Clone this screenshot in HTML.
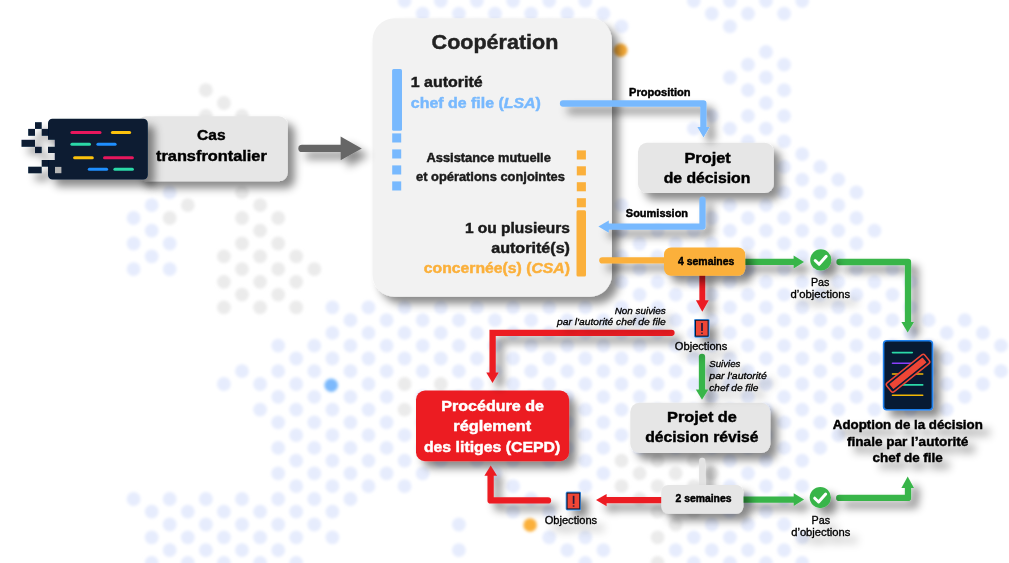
<!DOCTYPE html>
<html lang="fr"><head><meta charset="utf-8"><title>Coopération</title>
<style>html,body{margin:0;padding:0;background:#fff}body{width:1009px;height:563px;overflow:hidden}svg{display:block}text{white-space:pre}</style>
</head><body>
<svg width="1009" height="563" viewBox="0 0 1009 563" font-family='"Liberation Sans", sans-serif'>
<defs>
<filter id="sh" filterUnits="userSpaceOnUse" x="0" y="0" width="1009" height="563"><feDropShadow dx="7" dy="7" stdDeviation="4" flood-color="#000" flood-opacity="0.46"/></filter>
<filter id="sh2" filterUnits="userSpaceOnUse" x="0" y="0" width="1009" height="563"><feDropShadow dx="7" dy="7" stdDeviation="4" flood-color="#000" flood-opacity="0.46"/></filter>
<filter id="sh3" filterUnits="userSpaceOnUse" x="0" y="0" width="1009" height="563"><feDropShadow dx="7" dy="7" stdDeviation="4" flood-color="#000" flood-opacity="0.36"/></filter>
<filter id="nf" filterUnits="userSpaceOnUse" x="0" y="0" width="1009" height="563"><feOffset dx="0" dy="0"/></filter>
<filter id="soft" filterUnits="userSpaceOnUse" x="0" y="0" width="1009" height="563"><feGaussianBlur stdDeviation="1.7"/></filter>
</defs>
<g filter="url(#soft)"><circle cx="404.6" cy="0.8" r="6.9" fill="#e6ecfd"/><circle cx="440.8" cy="0.8" r="6.9" fill="#e6ecfd"/><circle cx="476.9" cy="0.8" r="6.9" fill="#e6ecfd"/><circle cx="513.1" cy="0.8" r="6.9" fill="#e6ecfd"/><circle cx="549.2" cy="0.8" r="6.9" fill="#e6ecfd"/><circle cx="585.3" cy="0.8" r="6.9" fill="#e6ecfd"/><circle cx="693.8" cy="0.8" r="6.9" fill="#e6ecfd"/><circle cx="729.9" cy="0.8" r="6.9" fill="#e6ecfd"/><circle cx="766.0" cy="0.8" r="6.9" fill="#e6ecfd"/><circle cx="802.2" cy="0.8" r="6.9" fill="#e6ecfd"/><circle cx="422.7" cy="13.6" r="6.9" fill="#e6ecfd"/><circle cx="458.9" cy="13.6" r="6.9" fill="#e6ecfd"/><circle cx="495.0" cy="13.6" r="6.9" fill="#e6ecfd"/><circle cx="531.1" cy="13.6" r="6.9" fill="#e6ecfd"/><circle cx="567.3" cy="13.6" r="6.9" fill="#e6ecfd"/><circle cx="603.4" cy="13.6" r="6.9" fill="#e6ecfd"/><circle cx="711.8" cy="13.6" r="6.9" fill="#e6ecfd"/><circle cx="748.0" cy="13.6" r="6.9" fill="#e6ecfd"/><circle cx="784.1" cy="13.6" r="6.9" fill="#e6ecfd"/><circle cx="440.8" cy="26.4" r="6.9" fill="#e6ecfd"/><circle cx="476.9" cy="26.4" r="6.9" fill="#e6ecfd"/><circle cx="513.1" cy="26.4" r="6.9" fill="#e6ecfd"/><circle cx="549.2" cy="26.4" r="6.9" fill="#e6ecfd"/><circle cx="585.3" cy="26.4" r="6.9" fill="#e6ecfd"/><circle cx="621.5" cy="26.4" r="6.9" fill="#e6ecfd"/><circle cx="729.9" cy="26.4" r="6.9" fill="#e6ecfd"/><circle cx="458.9" cy="39.1" r="6.9" fill="#e6ecfd"/><circle cx="495.0" cy="39.1" r="6.9" fill="#e6ecfd"/><circle cx="531.1" cy="39.1" r="6.9" fill="#e6ecfd"/><circle cx="567.3" cy="39.1" r="6.9" fill="#e6ecfd"/><circle cx="603.4" cy="39.1" r="6.9" fill="#e6ecfd"/><circle cx="440.8" cy="51.9" r="6.9" fill="#e6ecfd"/><circle cx="476.9" cy="51.9" r="6.9" fill="#e6ecfd"/><circle cx="513.1" cy="51.9" r="6.9" fill="#e6ecfd"/><circle cx="549.2" cy="51.9" r="6.9" fill="#e6ecfd"/><circle cx="585.3" cy="51.9" r="6.9" fill="#e6ecfd"/><circle cx="766.0" cy="51.9" r="6.9" fill="#e6ecfd"/><circle cx="748.0" cy="64.7" r="6.9" fill="#e6ecfd"/><circle cx="784.1" cy="64.7" r="6.9" fill="#e6ecfd"/><circle cx="729.9" cy="77.5" r="6.9" fill="#e6ecfd"/><circle cx="766.0" cy="77.5" r="6.9" fill="#e6ecfd"/><circle cx="205.9" cy="90.2" r="6.9" fill="#ebebeb"/><circle cx="748.0" cy="90.2" r="6.9" fill="#e6ecfd"/><circle cx="784.1" cy="90.2" r="6.9" fill="#e6ecfd"/><circle cx="223.9" cy="103.0" r="6.9" fill="#ebebeb"/><circle cx="766.0" cy="103.0" r="6.9" fill="#e6ecfd"/><circle cx="205.9" cy="115.8" r="6.9" fill="#ebebeb"/><circle cx="242.0" cy="115.8" r="6.9" fill="#ebebeb"/><circle cx="711.8" cy="115.8" r="6.9" fill="#e6ecfd"/><circle cx="748.0" cy="115.8" r="6.9" fill="#e6ecfd"/><circle cx="784.1" cy="115.8" r="6.9" fill="#e6ecfd"/><circle cx="693.8" cy="128.6" r="6.9" fill="#e6ecfd"/><circle cx="729.9" cy="128.6" r="6.9" fill="#e6ecfd"/><circle cx="766.0" cy="128.6" r="6.9" fill="#e6ecfd"/><circle cx="748.0" cy="141.3" r="6.9" fill="#e6ecfd"/><circle cx="784.1" cy="141.3" r="6.9" fill="#e6ecfd"/><circle cx="802.2" cy="154.1" r="6.9" fill="#e6ecfd"/><circle cx="784.1" cy="166.9" r="6.9" fill="#e6ecfd"/><circle cx="820.2" cy="166.9" r="6.9" fill="#e6ecfd"/><circle cx="802.2" cy="179.7" r="6.9" fill="#e6ecfd"/><circle cx="838.3" cy="179.7" r="6.9" fill="#e6ecfd"/><circle cx="169.7" cy="192.4" r="6.9" fill="#e6ecfd"/><circle cx="242.0" cy="192.4" r="6.9" fill="#ebebeb"/><circle cx="784.1" cy="192.4" r="6.9" fill="#e6ecfd"/><circle cx="820.2" cy="192.4" r="6.9" fill="#e6ecfd"/><circle cx="856.4" cy="192.4" r="6.9" fill="#e6ecfd"/><circle cx="151.7" cy="205.2" r="6.9" fill="#e6ecfd"/><circle cx="187.8" cy="205.2" r="6.9" fill="#ebebeb"/><circle cx="260.1" cy="205.2" r="6.9" fill="#ebebeb"/><circle cx="621.5" cy="205.2" r="6.9" fill="#e6ecfd"/><circle cx="729.9" cy="205.2" r="6.9" fill="#e6ecfd"/><circle cx="766.0" cy="205.2" r="6.9" fill="#e6ecfd"/><circle cx="802.2" cy="205.2" r="6.9" fill="#e6ecfd"/><circle cx="838.3" cy="205.2" r="6.9" fill="#e6ecfd"/><circle cx="133.6" cy="218.0" r="6.9" fill="#e6ecfd"/><circle cx="169.7" cy="218.0" r="6.9" fill="#ebebeb"/><circle cx="242.0" cy="218.0" r="6.9" fill="#ebebeb"/><circle cx="278.2" cy="218.0" r="6.9" fill="#ebebeb"/><circle cx="711.8" cy="218.0" r="6.9" fill="#e6ecfd"/><circle cx="748.0" cy="218.0" r="6.9" fill="#e6ecfd"/><circle cx="784.1" cy="218.0" r="6.9" fill="#e6ecfd"/><circle cx="820.2" cy="218.0" r="6.9" fill="#e6ecfd"/><circle cx="856.4" cy="218.0" r="6.9" fill="#e6ecfd"/><circle cx="151.7" cy="230.7" r="6.9" fill="#e6ecfd"/><circle cx="260.1" cy="230.7" r="6.9" fill="#ebebeb"/><circle cx="621.5" cy="230.7" r="6.9" fill="#e6ecfd"/><circle cx="657.6" cy="230.7" r="6.9" fill="#e6ecfd"/><circle cx="693.8" cy="230.7" r="6.9" fill="#e6ecfd"/><circle cx="729.9" cy="230.7" r="6.9" fill="#e6ecfd"/><circle cx="766.0" cy="230.7" r="6.9" fill="#e6ecfd"/><circle cx="802.2" cy="230.7" r="6.9" fill="#e6ecfd"/><circle cx="838.3" cy="230.7" r="6.9" fill="#e6ecfd"/><circle cx="874.5" cy="230.7" r="6.9" fill="#e6ecfd"/><circle cx="133.6" cy="243.5" r="6.9" fill="#e6ecfd"/><circle cx="169.7" cy="243.5" r="6.9" fill="#e6ecfd"/><circle cx="242.0" cy="243.5" r="6.9" fill="#ebebeb"/><circle cx="278.2" cy="243.5" r="6.9" fill="#ebebeb"/><circle cx="639.6" cy="243.5" r="6.9" fill="#e6ecfd"/><circle cx="675.7" cy="243.5" r="6.9" fill="#e6ecfd"/><circle cx="711.8" cy="243.5" r="6.9" fill="#e6ecfd"/><circle cx="748.0" cy="243.5" r="6.9" fill="#e6ecfd"/><circle cx="784.1" cy="243.5" r="6.9" fill="#e6ecfd"/><circle cx="820.2" cy="243.5" r="6.9" fill="#e6ecfd"/><circle cx="856.4" cy="243.5" r="6.9" fill="#e6ecfd"/><circle cx="151.7" cy="256.3" r="6.9" fill="#e6ecfd"/><circle cx="223.9" cy="256.3" r="6.9" fill="#ebebeb"/><circle cx="260.1" cy="256.3" r="6.9" fill="#ebebeb"/><circle cx="296.2" cy="256.3" r="6.9" fill="#ebebeb"/><circle cx="621.5" cy="256.3" r="6.9" fill="#e6ecfd"/><circle cx="657.6" cy="256.3" r="6.9" fill="#e6ecfd"/><circle cx="693.8" cy="256.3" r="6.9" fill="#e6ecfd"/><circle cx="729.9" cy="256.3" r="6.9" fill="#e6ecfd"/><circle cx="766.0" cy="256.3" r="6.9" fill="#e6ecfd"/><circle cx="802.2" cy="256.3" r="6.9" fill="#e6ecfd"/><circle cx="838.3" cy="256.3" r="6.9" fill="#e6ecfd"/><circle cx="133.6" cy="269.1" r="6.9" fill="#e6ecfd"/><circle cx="169.7" cy="269.1" r="6.9" fill="#e6ecfd"/><circle cx="242.0" cy="269.1" r="6.9" fill="#ebebeb"/><circle cx="278.2" cy="269.1" r="6.9" fill="#ebebeb"/><circle cx="314.3" cy="269.1" r="6.9" fill="#ebebeb"/><circle cx="639.6" cy="269.1" r="6.9" fill="#e6ecfd"/><circle cx="675.7" cy="269.1" r="6.9" fill="#e6ecfd"/><circle cx="711.8" cy="269.1" r="6.9" fill="#e6ecfd"/><circle cx="748.0" cy="269.1" r="6.9" fill="#e6ecfd"/><circle cx="784.1" cy="269.1" r="6.9" fill="#e6ecfd"/><circle cx="820.2" cy="269.1" r="6.9" fill="#e6ecfd"/><circle cx="856.4" cy="269.1" r="6.9" fill="#e6ecfd"/><circle cx="892.5" cy="269.1" r="6.9" fill="#e6ecfd"/><circle cx="223.9" cy="281.8" r="6.9" fill="#ebebeb"/><circle cx="260.1" cy="281.8" r="6.9" fill="#ebebeb"/><circle cx="296.2" cy="281.8" r="6.9" fill="#ebebeb"/><circle cx="621.5" cy="281.8" r="6.9" fill="#e6ecfd"/><circle cx="657.6" cy="281.8" r="6.9" fill="#e6ecfd"/><circle cx="693.8" cy="281.8" r="6.9" fill="#e6ecfd"/><circle cx="729.9" cy="281.8" r="6.9" fill="#e6ecfd"/><circle cx="766.0" cy="281.8" r="6.9" fill="#e6ecfd"/><circle cx="802.2" cy="281.8" r="6.9" fill="#e6ecfd"/><circle cx="838.3" cy="281.8" r="6.9" fill="#e6ecfd"/><circle cx="874.5" cy="281.8" r="6.9" fill="#e6ecfd"/><circle cx="910.6" cy="281.8" r="6.9" fill="#e6ecfd"/><circle cx="242.0" cy="294.6" r="6.9" fill="#ebebeb"/><circle cx="278.2" cy="294.6" r="6.9" fill="#ebebeb"/><circle cx="639.6" cy="294.6" r="6.9" fill="#e6ecfd"/><circle cx="675.7" cy="294.6" r="6.9" fill="#e6ecfd"/><circle cx="711.8" cy="294.6" r="6.9" fill="#e6ecfd"/><circle cx="748.0" cy="294.6" r="6.9" fill="#e6ecfd"/><circle cx="784.1" cy="294.6" r="6.9" fill="#e6ecfd"/><circle cx="820.2" cy="294.6" r="6.9" fill="#e6ecfd"/><circle cx="856.4" cy="294.6" r="6.9" fill="#e6ecfd"/><circle cx="892.5" cy="294.6" r="6.9" fill="#e6ecfd"/><circle cx="223.9" cy="307.4" r="6.9" fill="#ebebeb"/><circle cx="260.1" cy="307.4" r="6.9" fill="#ebebeb"/><circle cx="296.2" cy="307.4" r="6.9" fill="#ebebeb"/><circle cx="332.4" cy="307.4" r="6.9" fill="#e6ecfd"/><circle cx="368.5" cy="307.4" r="6.9" fill="#e6ecfd"/><circle cx="404.6" cy="307.4" r="6.9" fill="#e6ecfd"/><circle cx="440.8" cy="307.4" r="6.9" fill="#e6ecfd"/><circle cx="476.9" cy="307.4" r="6.9" fill="#e6ecfd"/><circle cx="513.1" cy="307.4" r="6.9" fill="#e6ecfd"/><circle cx="549.2" cy="307.4" r="6.9" fill="#e6ecfd"/><circle cx="585.3" cy="307.4" r="6.9" fill="#e6ecfd"/><circle cx="621.5" cy="307.4" r="6.9" fill="#e6ecfd"/><circle cx="657.6" cy="307.4" r="6.9" fill="#e6ecfd"/><circle cx="693.8" cy="307.4" r="6.9" fill="#e6ecfd"/><circle cx="729.9" cy="307.4" r="6.9" fill="#e6ecfd"/><circle cx="766.0" cy="307.4" r="6.9" fill="#e6ecfd"/><circle cx="802.2" cy="307.4" r="6.9" fill="#e6ecfd"/><circle cx="838.3" cy="307.4" r="6.9" fill="#e6ecfd"/><circle cx="874.5" cy="307.4" r="6.9" fill="#e6ecfd"/><circle cx="910.6" cy="307.4" r="6.9" fill="#e6ecfd"/><circle cx="350.4" cy="320.2" r="6.9" fill="#e6ecfd"/><circle cx="386.6" cy="320.2" r="6.9" fill="#e6ecfd"/><circle cx="422.7" cy="320.2" r="6.9" fill="#e6ecfd"/><circle cx="458.9" cy="320.2" r="6.9" fill="#e6ecfd"/><circle cx="495.0" cy="320.2" r="6.9" fill="#e6ecfd"/><circle cx="531.1" cy="320.2" r="6.9" fill="#e6ecfd"/><circle cx="567.3" cy="320.2" r="6.9" fill="#e6ecfd"/><circle cx="603.4" cy="320.2" r="6.9" fill="#e6ecfd"/><circle cx="639.6" cy="320.2" r="6.9" fill="#e6ecfd"/><circle cx="675.7" cy="320.2" r="6.9" fill="#e6ecfd"/><circle cx="711.8" cy="320.2" r="6.9" fill="#e6ecfd"/><circle cx="748.0" cy="320.2" r="6.9" fill="#e6ecfd"/><circle cx="784.1" cy="320.2" r="6.9" fill="#e6ecfd"/><circle cx="820.2" cy="320.2" r="6.9" fill="#e6ecfd"/><circle cx="856.4" cy="320.2" r="6.9" fill="#e6ecfd"/><circle cx="892.5" cy="320.2" r="6.9" fill="#e6ecfd"/><circle cx="928.7" cy="320.2" r="6.9" fill="#e6ecfd"/><circle cx="964.8" cy="320.2" r="6.9" fill="#e6ecfd"/><circle cx="332.4" cy="332.9" r="6.9" fill="#e6ecfd"/><circle cx="368.5" cy="332.9" r="6.9" fill="#e6ecfd"/><circle cx="404.6" cy="332.9" r="6.9" fill="#e6ecfd"/><circle cx="440.8" cy="332.9" r="6.9" fill="#e6ecfd"/><circle cx="476.9" cy="332.9" r="6.9" fill="#e6ecfd"/><circle cx="513.1" cy="332.9" r="6.9" fill="#e6ecfd"/><circle cx="549.2" cy="332.9" r="6.9" fill="#e6ecfd"/><circle cx="585.3" cy="332.9" r="6.9" fill="#e6ecfd"/><circle cx="621.5" cy="332.9" r="6.9" fill="#e6ecfd"/><circle cx="657.6" cy="332.9" r="6.9" fill="#e6ecfd"/><circle cx="693.8" cy="332.9" r="6.9" fill="#e6ecfd"/><circle cx="729.9" cy="332.9" r="6.9" fill="#e6ecfd"/><circle cx="766.0" cy="332.9" r="6.9" fill="#e6ecfd"/><circle cx="802.2" cy="332.9" r="6.9" fill="#e6ecfd"/><circle cx="838.3" cy="332.9" r="6.9" fill="#e6ecfd"/><circle cx="874.5" cy="332.9" r="6.9" fill="#e6ecfd"/><circle cx="910.6" cy="332.9" r="6.9" fill="#e6ecfd"/><circle cx="946.7" cy="332.9" r="6.9" fill="#e6ecfd"/><circle cx="982.9" cy="332.9" r="6.9" fill="#e6ecfd"/><circle cx="278.2" cy="345.7" r="6.9" fill="#e6ecfd"/><circle cx="314.3" cy="345.7" r="6.9" fill="#e6ecfd"/><circle cx="350.4" cy="345.7" r="6.9" fill="#e6ecfd"/><circle cx="386.6" cy="345.7" r="6.9" fill="#e6ecfd"/><circle cx="422.7" cy="345.7" r="6.9" fill="#e6ecfd"/><circle cx="458.9" cy="345.7" r="6.9" fill="#e6ecfd"/><circle cx="495.0" cy="345.7" r="6.9" fill="#e6ecfd"/><circle cx="531.1" cy="345.7" r="6.9" fill="#e6ecfd"/><circle cx="567.3" cy="345.7" r="6.9" fill="#e6ecfd"/><circle cx="603.4" cy="345.7" r="6.9" fill="#e6ecfd"/><circle cx="639.6" cy="345.7" r="6.9" fill="#e6ecfd"/><circle cx="675.7" cy="345.7" r="6.9" fill="#e6ecfd"/><circle cx="711.8" cy="345.7" r="6.9" fill="#e6ecfd"/><circle cx="748.0" cy="345.7" r="6.9" fill="#e6ecfd"/><circle cx="784.1" cy="345.7" r="6.9" fill="#e6ecfd"/><circle cx="820.2" cy="345.7" r="6.9" fill="#e6ecfd"/><circle cx="856.4" cy="345.7" r="6.9" fill="#e6ecfd"/><circle cx="892.5" cy="345.7" r="6.9" fill="#e6ecfd"/><circle cx="928.7" cy="345.7" r="6.9" fill="#e6ecfd"/><circle cx="964.8" cy="345.7" r="6.9" fill="#e6ecfd"/><circle cx="1001.0" cy="345.7" r="6.9" fill="#e6ecfd"/><circle cx="296.2" cy="358.5" r="6.9" fill="#e6ecfd"/><circle cx="332.4" cy="358.5" r="6.9" fill="#e6ecfd"/><circle cx="368.5" cy="358.5" r="6.9" fill="#e6ecfd"/><circle cx="404.6" cy="358.5" r="6.9" fill="#e6ecfd"/><circle cx="440.8" cy="358.5" r="6.9" fill="#e6ecfd"/><circle cx="476.9" cy="358.5" r="6.9" fill="#e6ecfd"/><circle cx="513.1" cy="358.5" r="6.9" fill="#e6ecfd"/><circle cx="549.2" cy="358.5" r="6.9" fill="#e6ecfd"/><circle cx="585.3" cy="358.5" r="6.9" fill="#e6ecfd"/><circle cx="621.5" cy="358.5" r="6.9" fill="#e6ecfd"/><circle cx="657.6" cy="358.5" r="6.9" fill="#e6ecfd"/><circle cx="693.8" cy="358.5" r="6.9" fill="#e6ecfd"/><circle cx="729.9" cy="358.5" r="6.9" fill="#e6ecfd"/><circle cx="766.0" cy="358.5" r="6.9" fill="#e6ecfd"/><circle cx="802.2" cy="358.5" r="6.9" fill="#e6ecfd"/><circle cx="838.3" cy="358.5" r="6.9" fill="#e6ecfd"/><circle cx="874.5" cy="358.5" r="6.9" fill="#e6ecfd"/><circle cx="910.6" cy="358.5" r="6.9" fill="#e6ecfd"/><circle cx="946.7" cy="358.5" r="6.9" fill="#e6ecfd"/><circle cx="982.9" cy="358.5" r="6.9" fill="#e6ecfd"/><circle cx="242.0" cy="371.2" r="6.9" fill="#e6ecfd"/><circle cx="278.2" cy="371.2" r="6.9" fill="#e6ecfd"/><circle cx="314.3" cy="371.2" r="6.9" fill="#e6ecfd"/><circle cx="350.4" cy="371.2" r="6.9" fill="#e6ecfd"/><circle cx="386.6" cy="371.2" r="6.9" fill="#e6ecfd"/><circle cx="422.7" cy="371.2" r="6.9" fill="#e6ecfd"/><circle cx="458.9" cy="371.2" r="6.9" fill="#e6ecfd"/><circle cx="495.0" cy="371.2" r="6.9" fill="#e6ecfd"/><circle cx="531.1" cy="371.2" r="6.9" fill="#e6ecfd"/><circle cx="567.3" cy="371.2" r="6.9" fill="#e6ecfd"/><circle cx="603.4" cy="371.2" r="6.9" fill="#e6ecfd"/><circle cx="639.6" cy="371.2" r="6.9" fill="#e6ecfd"/><circle cx="675.7" cy="371.2" r="6.9" fill="#e6ecfd"/><circle cx="711.8" cy="371.2" r="6.9" fill="#e6ecfd"/><circle cx="748.0" cy="371.2" r="6.9" fill="#e6ecfd"/><circle cx="784.1" cy="371.2" r="6.9" fill="#e6ecfd"/><circle cx="820.2" cy="371.2" r="6.9" fill="#e6ecfd"/><circle cx="856.4" cy="371.2" r="6.9" fill="#e6ecfd"/><circle cx="892.5" cy="371.2" r="6.9" fill="#e6ecfd"/><circle cx="928.7" cy="371.2" r="6.9" fill="#e6ecfd"/><circle cx="964.8" cy="371.2" r="6.9" fill="#e6ecfd"/><circle cx="1001.0" cy="371.2" r="6.9" fill="#e6ecfd"/><circle cx="223.9" cy="384.0" r="6.9" fill="#e6ecfd"/><circle cx="260.1" cy="384.0" r="6.9" fill="#e6ecfd"/><circle cx="296.2" cy="384.0" r="6.9" fill="#e6ecfd"/><circle cx="368.5" cy="384.0" r="6.9" fill="#e6ecfd"/><circle cx="404.6" cy="384.0" r="6.9" fill="#ebebeb"/><circle cx="440.8" cy="384.0" r="6.9" fill="#ebebeb"/><circle cx="476.9" cy="384.0" r="6.9" fill="#e6ecfd"/><circle cx="513.1" cy="384.0" r="6.9" fill="#e6ecfd"/><circle cx="549.2" cy="384.0" r="6.9" fill="#e6ecfd"/><circle cx="585.3" cy="384.0" r="6.9" fill="#e6ecfd"/><circle cx="621.5" cy="384.0" r="6.9" fill="#e6ecfd"/><circle cx="657.6" cy="384.0" r="6.9" fill="#e6ecfd"/><circle cx="693.8" cy="384.0" r="6.9" fill="#e6ecfd"/><circle cx="729.9" cy="384.0" r="6.9" fill="#e6ecfd"/><circle cx="766.0" cy="384.0" r="6.9" fill="#e6ecfd"/><circle cx="802.2" cy="384.0" r="6.9" fill="#e6ecfd"/><circle cx="838.3" cy="384.0" r="6.9" fill="#e6ecfd"/><circle cx="874.5" cy="384.0" r="6.9" fill="#e6ecfd"/><circle cx="910.6" cy="384.0" r="6.9" fill="#e6ecfd"/><circle cx="946.7" cy="384.0" r="6.9" fill="#e6ecfd"/><circle cx="982.9" cy="384.0" r="6.9" fill="#e6ecfd"/><circle cx="278.2" cy="396.8" r="6.9" fill="#e6ecfd"/><circle cx="314.3" cy="396.8" r="6.9" fill="#e6ecfd"/><circle cx="350.4" cy="396.8" r="6.9" fill="#e6ecfd"/><circle cx="386.6" cy="396.8" r="6.9" fill="#e6ecfd"/><circle cx="422.7" cy="396.8" r="6.9" fill="#e6ecfd"/><circle cx="458.9" cy="396.8" r="6.9" fill="#e6ecfd"/><circle cx="495.0" cy="396.8" r="6.9" fill="#e6ecfd"/><circle cx="531.1" cy="396.8" r="6.9" fill="#e6ecfd"/><circle cx="567.3" cy="396.8" r="6.9" fill="#e6ecfd"/><circle cx="603.4" cy="396.8" r="6.9" fill="#e6ecfd"/><circle cx="639.6" cy="396.8" r="6.9" fill="#e6ecfd"/><circle cx="675.7" cy="396.8" r="6.9" fill="#e6ecfd"/><circle cx="711.8" cy="396.8" r="6.9" fill="#e6ecfd"/><circle cx="748.0" cy="396.8" r="6.9" fill="#e6ecfd"/><circle cx="784.1" cy="396.8" r="6.9" fill="#e6ecfd"/><circle cx="820.2" cy="396.8" r="6.9" fill="#e6ecfd"/><circle cx="856.4" cy="396.8" r="6.9" fill="#e6ecfd"/><circle cx="892.5" cy="396.8" r="6.9" fill="#e6ecfd"/><circle cx="928.7" cy="396.8" r="6.9" fill="#e6ecfd"/><circle cx="964.8" cy="396.8" r="6.9" fill="#e6ecfd"/><circle cx="260.1" cy="409.6" r="6.9" fill="#e6ecfd"/><circle cx="296.2" cy="409.6" r="6.9" fill="#e6ecfd"/><circle cx="332.4" cy="409.6" r="6.9" fill="#e6ecfd"/><circle cx="368.5" cy="409.6" r="6.9" fill="#e6ecfd"/><circle cx="404.6" cy="409.6" r="6.9" fill="#ebebeb"/><circle cx="440.8" cy="409.6" r="6.9" fill="#e6ecfd"/><circle cx="476.9" cy="409.6" r="6.9" fill="#e6ecfd"/><circle cx="513.1" cy="409.6" r="6.9" fill="#e6ecfd"/><circle cx="549.2" cy="409.6" r="6.9" fill="#e6ecfd"/><circle cx="585.3" cy="409.6" r="6.9" fill="#e6ecfd"/><circle cx="621.5" cy="409.6" r="6.9" fill="#e6ecfd"/><circle cx="657.6" cy="409.6" r="6.9" fill="#e6ecfd"/><circle cx="693.8" cy="409.6" r="6.9" fill="#e6ecfd"/><circle cx="729.9" cy="409.6" r="6.9" fill="#e6ecfd"/><circle cx="766.0" cy="409.6" r="6.9" fill="#e6ecfd"/><circle cx="802.2" cy="409.6" r="6.9" fill="#e6ecfd"/><circle cx="838.3" cy="409.6" r="6.9" fill="#e6ecfd"/><circle cx="874.5" cy="409.6" r="6.9" fill="#e6ecfd"/><circle cx="910.6" cy="409.6" r="6.9" fill="#e6ecfd"/><circle cx="946.7" cy="409.6" r="6.9" fill="#e6ecfd"/><circle cx="278.2" cy="422.3" r="6.9" fill="#e6ecfd"/><circle cx="314.3" cy="422.3" r="6.9" fill="#e6ecfd"/><circle cx="350.4" cy="422.3" r="6.9" fill="#e6ecfd"/><circle cx="386.6" cy="422.3" r="6.9" fill="#e6ecfd"/><circle cx="422.7" cy="422.3" r="6.9" fill="#e6ecfd"/><circle cx="458.9" cy="422.3" r="6.9" fill="#e6ecfd"/><circle cx="495.0" cy="422.3" r="6.9" fill="#e6ecfd"/><circle cx="531.1" cy="422.3" r="6.9" fill="#e6ecfd"/><circle cx="567.3" cy="422.3" r="6.9" fill="#e6ecfd"/><circle cx="603.4" cy="422.3" r="6.9" fill="#e6ecfd"/><circle cx="639.6" cy="422.3" r="6.9" fill="#e6ecfd"/><circle cx="675.7" cy="422.3" r="6.9" fill="#e6ecfd"/><circle cx="711.8" cy="422.3" r="6.9" fill="#e6ecfd"/><circle cx="748.0" cy="422.3" r="6.9" fill="#e6ecfd"/><circle cx="784.1" cy="422.3" r="6.9" fill="#e6ecfd"/><circle cx="820.2" cy="422.3" r="6.9" fill="#e6ecfd"/><circle cx="296.2" cy="435.1" r="6.9" fill="#e6ecfd"/><circle cx="332.4" cy="435.1" r="6.9" fill="#e6ecfd"/><circle cx="368.5" cy="435.1" r="6.9" fill="#e6ecfd"/><circle cx="404.6" cy="435.1" r="6.9" fill="#e6ecfd"/><circle cx="440.8" cy="435.1" r="6.9" fill="#e6ecfd"/><circle cx="476.9" cy="435.1" r="6.9" fill="#e6ecfd"/><circle cx="513.1" cy="435.1" r="6.9" fill="#e6ecfd"/><circle cx="549.2" cy="435.1" r="6.9" fill="#e6ecfd"/><circle cx="585.3" cy="435.1" r="6.9" fill="#e6ecfd"/><circle cx="621.5" cy="435.1" r="6.9" fill="#e6ecfd"/><circle cx="657.6" cy="435.1" r="6.9" fill="#e6ecfd"/><circle cx="693.8" cy="435.1" r="6.9" fill="#e6ecfd"/><circle cx="729.9" cy="435.1" r="6.9" fill="#e6ecfd"/><circle cx="766.0" cy="435.1" r="6.9" fill="#e6ecfd"/><circle cx="802.2" cy="435.1" r="6.9" fill="#e6ecfd"/><circle cx="838.3" cy="435.1" r="6.9" fill="#e6ecfd"/><circle cx="278.2" cy="447.9" r="6.9" fill="#e6ecfd"/><circle cx="314.3" cy="447.9" r="6.9" fill="#e6ecfd"/><circle cx="350.4" cy="447.9" r="6.9" fill="#e6ecfd"/><circle cx="386.6" cy="447.9" r="6.9" fill="#e6ecfd"/><circle cx="422.7" cy="447.9" r="6.9" fill="#e6ecfd"/><circle cx="458.9" cy="447.9" r="6.9" fill="#e6ecfd"/><circle cx="495.0" cy="447.9" r="6.9" fill="#e6ecfd"/><circle cx="531.1" cy="447.9" r="6.9" fill="#e6ecfd"/><circle cx="567.3" cy="447.9" r="6.9" fill="#e6ecfd"/><circle cx="603.4" cy="447.9" r="6.9" fill="#e6ecfd"/><circle cx="639.6" cy="447.9" r="6.9" fill="#e6ecfd"/><circle cx="675.7" cy="447.9" r="6.9" fill="#e6ecfd"/><circle cx="711.8" cy="447.9" r="6.9" fill="#e6ecfd"/><circle cx="748.0" cy="447.9" r="6.9" fill="#e6ecfd"/><circle cx="784.1" cy="447.9" r="6.9" fill="#e6ecfd"/><circle cx="820.2" cy="447.9" r="6.9" fill="#e6ecfd"/><circle cx="296.2" cy="460.7" r="6.9" fill="#e6ecfd"/><circle cx="332.4" cy="460.7" r="6.9" fill="#e6ecfd"/><circle cx="368.5" cy="460.7" r="6.9" fill="#e6ecfd"/><circle cx="404.6" cy="460.7" r="6.9" fill="#e6ecfd"/><circle cx="440.8" cy="460.7" r="6.9" fill="#e6ecfd"/><circle cx="476.9" cy="460.7" r="6.9" fill="#e6ecfd"/><circle cx="513.1" cy="460.7" r="6.9" fill="#e6ecfd"/><circle cx="549.2" cy="460.7" r="6.9" fill="#e6ecfd"/><circle cx="585.3" cy="460.7" r="6.9" fill="#e6ecfd"/><circle cx="621.5" cy="460.7" r="6.9" fill="#ebebeb"/><circle cx="657.6" cy="460.7" r="6.9" fill="#ebebeb"/><circle cx="693.8" cy="460.7" r="6.9" fill="#ebebeb"/><circle cx="729.9" cy="460.7" r="6.9" fill="#e6ecfd"/><circle cx="766.0" cy="460.7" r="6.9" fill="#e6ecfd"/><circle cx="802.2" cy="460.7" r="6.9" fill="#e6ecfd"/><circle cx="278.2" cy="473.4" r="6.9" fill="#e6ecfd"/><circle cx="314.3" cy="473.4" r="6.9" fill="#e6ecfd"/><circle cx="350.4" cy="473.4" r="6.9" fill="#e6ecfd"/><circle cx="386.6" cy="473.4" r="6.9" fill="#e6ecfd"/><circle cx="422.7" cy="473.4" r="6.9" fill="#e6ecfd"/><circle cx="495.0" cy="473.4" r="6.9" fill="#e6ecfd"/><circle cx="603.4" cy="473.4" r="6.9" fill="#e6ecfd"/><circle cx="639.6" cy="473.4" r="6.9" fill="#ebebeb"/><circle cx="675.7" cy="473.4" r="6.9" fill="#ebebeb"/><circle cx="711.8" cy="473.4" r="6.9" fill="#ebebeb"/><circle cx="748.0" cy="473.4" r="6.9" fill="#e6ecfd"/><circle cx="784.1" cy="473.4" r="6.9" fill="#e6ecfd"/><circle cx="296.2" cy="486.2" r="6.9" fill="#e6ecfd"/><circle cx="332.4" cy="486.2" r="6.9" fill="#e6ecfd"/><circle cx="368.5" cy="486.2" r="6.9" fill="#e6ecfd"/><circle cx="404.6" cy="486.2" r="6.9" fill="#e6ecfd"/><circle cx="513.1" cy="486.2" r="6.9" fill="#e6ecfd"/><circle cx="585.3" cy="486.2" r="6.9" fill="#e6ecfd"/><circle cx="621.5" cy="486.2" r="6.9" fill="#ebebeb"/><circle cx="657.6" cy="486.2" r="6.9" fill="#ebebeb"/><circle cx="693.8" cy="486.2" r="6.9" fill="#ebebeb"/><circle cx="729.9" cy="486.2" r="6.9" fill="#e6ecfd"/><circle cx="766.0" cy="486.2" r="6.9" fill="#e6ecfd"/><circle cx="802.2" cy="486.2" r="6.9" fill="#e6ecfd"/><circle cx="133.6" cy="499.0" r="6.9" fill="#e6ecfd"/><circle cx="169.7" cy="499.0" r="6.9" fill="#e6ecfd"/><circle cx="205.9" cy="499.0" r="6.9" fill="#e6ecfd"/><circle cx="242.0" cy="499.0" r="6.9" fill="#e6ecfd"/><circle cx="278.2" cy="499.0" r="6.9" fill="#e6ecfd"/><circle cx="314.3" cy="499.0" r="6.9" fill="#e6ecfd"/><circle cx="350.4" cy="499.0" r="6.9" fill="#e6ecfd"/><circle cx="531.1" cy="499.0" r="6.9" fill="#e6ecfd"/><circle cx="639.6" cy="499.0" r="6.9" fill="#ebebeb"/><circle cx="675.7" cy="499.0" r="6.9" fill="#ebebeb"/><circle cx="711.8" cy="499.0" r="6.9" fill="#ebebeb"/><circle cx="748.0" cy="499.0" r="6.9" fill="#e6ecfd"/><circle cx="784.1" cy="499.0" r="6.9" fill="#e6ecfd"/><circle cx="151.7" cy="511.7" r="6.9" fill="#e6ecfd"/><circle cx="187.8" cy="511.7" r="6.9" fill="#e6ecfd"/><circle cx="223.9" cy="511.7" r="6.9" fill="#e6ecfd"/><circle cx="260.1" cy="511.7" r="6.9" fill="#e6ecfd"/><circle cx="296.2" cy="511.7" r="6.9" fill="#e6ecfd"/><circle cx="332.4" cy="511.7" r="6.9" fill="#e6ecfd"/><circle cx="513.1" cy="511.7" r="6.9" fill="#e6ecfd"/><circle cx="549.2" cy="511.7" r="6.9" fill="#e6ecfd"/><circle cx="657.6" cy="511.7" r="6.9" fill="#ebebeb"/><circle cx="693.8" cy="511.7" r="6.9" fill="#ebebeb"/><circle cx="729.9" cy="511.7" r="6.9" fill="#e6ecfd"/><circle cx="766.0" cy="511.7" r="6.9" fill="#e6ecfd"/><circle cx="169.7" cy="524.5" r="6.9" fill="#e6ecfd"/><circle cx="205.9" cy="524.5" r="6.9" fill="#e6ecfd"/><circle cx="242.0" cy="524.5" r="6.9" fill="#e6ecfd"/><circle cx="278.2" cy="524.5" r="6.9" fill="#e6ecfd"/><circle cx="314.3" cy="524.5" r="6.9" fill="#e6ecfd"/><circle cx="458.9" cy="524.5" r="6.9" fill="#e6ecfd"/><circle cx="675.7" cy="524.5" r="6.9" fill="#ebebeb"/><circle cx="711.8" cy="524.5" r="6.9" fill="#e6ecfd"/><circle cx="748.0" cy="524.5" r="6.9" fill="#e6ecfd"/><circle cx="784.1" cy="524.5" r="6.9" fill="#e6ecfd"/><circle cx="151.7" cy="537.3" r="6.9" fill="#e6ecfd"/><circle cx="187.8" cy="537.3" r="6.9" fill="#e6ecfd"/><circle cx="223.9" cy="537.3" r="6.9" fill="#e6ecfd"/><circle cx="260.1" cy="537.3" r="6.9" fill="#e6ecfd"/><circle cx="296.2" cy="537.3" r="6.9" fill="#e6ecfd"/><circle cx="332.4" cy="537.3" r="6.9" fill="#e6ecfd"/><circle cx="549.2" cy="537.3" r="6.9" fill="#e6ecfd"/><circle cx="585.3" cy="537.3" r="6.9" fill="#e6ecfd"/><circle cx="657.6" cy="537.3" r="6.9" fill="#ebebeb"/><circle cx="693.8" cy="537.3" r="6.9" fill="#e6ecfd"/><circle cx="729.9" cy="537.3" r="6.9" fill="#e6ecfd"/><circle cx="766.0" cy="537.3" r="6.9" fill="#e6ecfd"/><circle cx="802.2" cy="537.3" r="6.9" fill="#e6ecfd"/><circle cx="169.7" cy="550.1" r="6.9" fill="#e6ecfd"/><circle cx="205.9" cy="550.1" r="6.9" fill="#e6ecfd"/><circle cx="242.0" cy="550.1" r="6.9" fill="#e6ecfd"/><circle cx="278.2" cy="550.1" r="6.9" fill="#e6ecfd"/><circle cx="458.9" cy="550.1" r="6.9" fill="#e6ecfd"/><circle cx="567.3" cy="550.1" r="6.9" fill="#e6ecfd"/><circle cx="603.4" cy="550.1" r="6.9" fill="#e6ecfd"/><circle cx="675.7" cy="550.1" r="6.9" fill="#e6ecfd"/><circle cx="711.8" cy="550.1" r="6.9" fill="#e6ecfd"/><circle cx="748.0" cy="550.1" r="6.9" fill="#e6ecfd"/><circle cx="784.1" cy="550.1" r="6.9" fill="#e6ecfd"/><circle cx="151.7" cy="562.8" r="6.9" fill="#e6ecfd"/><circle cx="187.8" cy="562.8" r="6.9" fill="#e6ecfd"/><circle cx="223.9" cy="562.8" r="6.9" fill="#e6ecfd"/><circle cx="260.1" cy="562.8" r="6.9" fill="#e6ecfd"/><circle cx="296.2" cy="562.8" r="6.9" fill="#e6ecfd"/><circle cx="585.3" cy="562.8" r="6.9" fill="#e6ecfd"/><circle cx="657.6" cy="562.8" r="6.9" fill="#ebebeb"/><circle cx="693.8" cy="562.8" r="6.9" fill="#e6ecfd"/><circle cx="729.9" cy="562.8" r="6.9" fill="#e6ecfd"/><circle cx="766.0" cy="562.8" r="6.9" fill="#e6ecfd"/><circle cx="802.2" cy="562.8" r="6.9" fill="#e6ecfd"/></g><g filter="url(#soft)"><circle cx="331.2" cy="385.2" r="6.8" fill="#7bb9fc"/><circle cx="620.6" cy="50.2" r="6.8" fill="#f5a936"/><circle cx="530.1" cy="525" r="6.8" fill="#fbb03b"/></g><g filter="url(#sh)"><rect x="137" y="116.3" width="150.8" height="65" rx="9" fill="#e6e6e6"/><rect x="372.5" y="18.3" width="239.4" height="278.4" rx="22" fill="#f2f2f2"/><rect x="638" y="142.8" width="135.8" height="50.1" rx="9" fill="#e6e6e6"/><rect x="630.3" y="402.8" width="140" height="50.1" rx="9" fill="#e6e6e6"/><rect x="416" y="390.6" width="153.1" height="70.6" rx="9" fill="#ec1c24"/></g><rect x="392.1" y="69.1" width="9.9" height="61.7" rx="1.5" fill="#78b9fe"/><rect x="392.2" y="133.4" width="9" height="9.1" fill="#78b9fe"/><rect x="392.2" y="149.4" width="9" height="9.1" fill="#78b9fe"/><rect x="392.2" y="165.4" width="9" height="9.1" fill="#78b9fe"/><rect x="392.2" y="181.4" width="9" height="9.1" fill="#78b9fe"/><rect x="576.5" y="210.3" width="9.5" height="66.3" rx="1.5" fill="#fbb03b"/><rect x="576.8" y="150.4" width="9.1" height="9.1" fill="#fbb03b"/><rect x="576.8" y="166.3" width="9.1" height="9.1" fill="#fbb03b"/><rect x="576.8" y="182.2" width="9.1" height="9.1" fill="#fbb03b"/><rect x="576.8" y="198.2" width="9.1" height="9.1" fill="#fbb03b"/><g filter="url(#sh)" fill="none" stroke-width="6.3" stroke-linecap="round" stroke-linejoin="round"><path d="M302 148.4H341" stroke="#666" stroke-width="7.4"/><path d="M340.6 136.6L361.8 148.4L340.6 160.2Z" fill="#666" stroke="none"/><path d="M563 103.5H703.4V128" stroke="#78b9fe" stroke-linejoin="round"/><path d="M697.4 126.9H709.6L703.5 137.5Z" fill="#78b9fe" stroke="none"/><path d="M702.5 199.6V226.6H608" stroke="#78b9fe"/><path d="M608.8 220.5V232.8L598.4 226.6Z" fill="#78b9fe" stroke="none"/><path d="M602.3 260.4H670" stroke="#fbb03b" stroke-width="6.2"/><path d="M740 261.9H794" stroke="#39b54a" stroke-linecap="butt"/><path d="M793.6 255.6V268.4L804 262Z" fill="#39b54a" stroke="none"/><path d="M839.5 262H908V323" stroke="#39b54a"/><path d="M901.4 322.1H914L907.7 332.4Z" fill="#39b54a" stroke="none"/><path d="M702.3 270V301" stroke="#ec1c24" stroke-width="5.9" stroke-linecap="butt"/><path d="M695.9 300.3H708.8L702.3 311.8Z" fill="#ec1c24" stroke="none"/><path d="M671.5 332.8H492.6V373" stroke="#ec1c24" stroke-linejoin="miter"/><path d="M486.3 372.4H498.7L492.5 383Z" fill="#ec1c24" stroke="none"/><path d="M702 356.8V390" stroke="#39b54a"/><path d="M695.8 389.5H708.4L702 399.8Z" fill="#39b54a" stroke="none"/><path d="M702.2 460.8V490" stroke="#e3e3e3"/><path d="M665 500.1H606" stroke="#ec1c24" stroke-linecap="butt"/><path d="M606.6 493.9V506.3L596 500.1Z" fill="#ec1c24" stroke="none"/><path d="M548 500.4H490.6V475" stroke="#ec1c24" stroke-linejoin="round"/><path d="M484.4 475.8H497.1L490.7 465.6Z" fill="#ec1c24" stroke="none"/><path d="M740 499.6H794" stroke="#39b54a" stroke-linecap="butt"/><path d="M793.7 493.2V506L804.1 499.6Z" fill="#39b54a" stroke="none"/><path d="M839.2 497.9H908V487" stroke="#39b54a"/><path d="M901.4 487.9H914L907.7 476.6Z" fill="#39b54a" stroke="none"/></g><g filter="url(#sh)"><rect x="664" y="247.5" width="81.2" height="28.3" rx="7" fill="#fbb03b"/><rect x="661.2" y="485" width="82.1" height="28.8" rx="7" fill="#e6e6e6"/><circle cx="820.8" cy="259.9" r="10.6" fill="#39b54a"/><circle cx="820.3" cy="497.6" r="10.6" fill="#39b54a"/><rect x="694.2" y="319" width="15.2" height="18.4" rx="1.3" fill="#4a9ff5"/><rect x="565.8" y="491.8" width="15.2" height="18.4" rx="1.3" fill="#4a9ff5"/><rect x="882.8" y="339.9" width="50.4" height="70.6" rx="4" fill="#1e80ee"/></g><path d="M815.1999999999999 260.5L819.0999999999999 264.29999999999995L826.1999999999999 256.29999999999995" fill="none" stroke="#fff" stroke-width="3" stroke-linecap="round" stroke-linejoin="round"/><path d="M814.6999999999999 498.20000000000005L818.5999999999999 502.0L825.6999999999999 494.0" fill="none" stroke="#fff" stroke-width="3" stroke-linecap="round" stroke-linejoin="round"/><rect x="694.2" y="319" width="15.2" height="18.4" rx="1.3" fill="#4a9ff5"/><rect x="694.9000000000001" y="319.7" width="13.799999999999999" height="17.0" rx="0.6" fill="#0b1a35"/><rect x="696.0" y="320.8" width="11.6" height="14.799999999999999" fill="#ef4636"/><path d="M702.0000000000001 323V331.1" stroke="#23183a" stroke-width="1.7" fill="none"/><rect x="701.1500000000001" y="332.6" width="1.7" height="1.3" fill="#23183a"/><rect x="565.8" y="491.8" width="15.2" height="18.4" rx="1.3" fill="#4a9ff5"/><rect x="566.5" y="492.5" width="13.799999999999999" height="17.0" rx="0.6" fill="#0b1a35"/><rect x="567.5999999999999" y="493.6" width="11.6" height="14.799999999999999" fill="#ef4636"/><path d="M573.6 495.8V503.90000000000003" stroke="#23183a" stroke-width="1.7" fill="none"/><rect x="572.75" y="505.40000000000003" width="1.7" height="1.3" fill="#23183a"/><rect x="884.4" y="341.5" width="47.2" height="67.4" rx="2.6" fill="#071a33"/><g fill="none" stroke-width="1.6" stroke-linecap="round"><path d="M892.5 352.6H912.3" stroke="#2bd9a8"/><path d="M892.5 363.3H915" stroke="#8a3ffc"/><path d="M892.5 374H922.7" stroke="#f2b705"/><path d="M901 384.9H922.7" stroke="#2bd9a8"/><path d="M892.5 395.3H922.7" stroke="#f2b705"/></g><g transform="translate(908 373.3) rotate(-38.9)"><rect x="-24.5" y="-5.6" width="49" height="11.2" rx="2.2" fill="#071a33" stroke="#ef4636" stroke-width="1.5"/><rect x="-21.3" y="-3.2" width="42.6" height="6.4" rx="0.6" fill="#ef4636"/></g><g fill="#071a33" filter="url(#sh2)"><path d="M52.5 118.8H143.3a4.5 4.5 0 0 1 4.5 4.5V175.1a4.5 4.5 0 0 1 -4.5 4.5H52.5a4.5 4.5 0 0 1 -4.5 -4.5V160H54.8V153.1H48V146.8H54.8V139.8H48V123.3a4.5 4.5 0 0 1 4.5 -4.5Z"/><rect x="35" y="122.2" width="6.7" height="6.7"/><rect x="28.2" y="128.9" width="6.8" height="6.9"/><rect x="41.7" y="128.9" width="6.6" height="6.9"/><rect x="21.5" y="139.8" width="13.5" height="7"/><rect x="35" y="146.8" width="6.7" height="6.3"/><rect x="41.7" y="160" width="6.6" height="6.7"/><rect x="28.2" y="166.7" width="13.5" height="6.6"/></g><rect x="55" y="166.9" width="6.4" height="6.3" fill="#b5b5b5"/><g fill="none" stroke-width="3" stroke-linecap="round"><path d="M71.9 132.6H100" stroke="#e8175d"/><path d="M112.4 132.6H129.6" stroke="#fcc20d"/><path d="M71.9 144.2H89.5" stroke="#2bd9a8"/><path d="M97.9 144.2H115.1" stroke="#1f8fff"/><path d="M74.6 157.8H92.3" stroke="#fcc20d"/><path d="M104.5 157.8H132.4" stroke="#e8175d"/><path d="M89.3 169.3H106.6" stroke="#1f8fff"/><path d="M114.9 169.3H132.4" stroke="#2bd9a8"/></g><g filter="url(#nf)"><text x="211.3" y="140.1" font-size="15.5" font-weight="bold" fill="#000" text-anchor="middle" textLength="28.5" lengthAdjust="spacingAndGlyphs" stroke="#000" stroke-width="0.45" >Cas</text><text x="211.4" y="160.7" font-size="15.5" font-weight="bold" fill="#000" text-anchor="middle" textLength="110.8" lengthAdjust="spacingAndGlyphs" stroke="#000" stroke-width="0.45" >transfrontalier</text><text x="495" y="48.8" font-size="20.5" font-weight="bold" fill="#222" text-anchor="middle" textLength="126.8" lengthAdjust="spacingAndGlyphs" stroke="#222" stroke-width="0.45" >Coopération</text><text x="410.8" y="87.1" font-size="14.5" font-weight="bold" fill="#1a1a1a" text-anchor="start" textLength="71.8" lengthAdjust="spacingAndGlyphs" stroke="#1a1a1a" stroke-width="0.45" >1 autorité</text><text x="410.8" y="108" font-size="14.5" font-weight="bold" fill="#78b9fe" stroke="#78b9fe" stroke-width="0.45" textLength="130.1" lengthAdjust="spacingAndGlyphs">chef de file (<tspan font-style="italic">LSA</tspan>)</text><text x="488.7" y="161.6" font-size="12.8" font-weight="bold" fill="#1a1a1a" text-anchor="middle" textLength="124.3" lengthAdjust="spacingAndGlyphs" stroke="#1a1a1a" stroke-width="0.45" >Assistance mutuelle</text><text x="490.4" y="181.3" font-size="12.8" font-weight="bold" fill="#1a1a1a" text-anchor="middle" textLength="148.8" lengthAdjust="spacingAndGlyphs" stroke="#1a1a1a" stroke-width="0.45" >et opérations conjointes</text><text x="570" y="232.7" font-size="14.5" font-weight="bold" fill="#1a1a1a" text-anchor="end" textLength="105.1" lengthAdjust="spacingAndGlyphs" stroke="#1a1a1a" stroke-width="0.45" >1 ou plusieurs</text><text x="570" y="252.7" font-size="14.5" font-weight="bold" fill="#1a1a1a" text-anchor="end" textLength="78.8" lengthAdjust="spacingAndGlyphs" stroke="#1a1a1a" stroke-width="0.45" >autorité(s)</text><text x="570" y="273" font-size="14.5" font-weight="bold" fill="#fbb03b" stroke="#fbb03b" stroke-width="0.45" text-anchor="end" textLength="146.2" lengthAdjust="spacingAndGlyphs">concernée(s) (<tspan font-style="italic">CSA</tspan>)</text><text x="629" y="95.8" font-size="10.8" font-weight="bold" fill="#000" text-anchor="start" textLength="61.5" lengthAdjust="spacingAndGlyphs" stroke="#000" stroke-width="0.45" >Proposition</text><text x="625.8" y="217.4" font-size="10.8" font-weight="bold" fill="#000" text-anchor="start" textLength="62.3" lengthAdjust="spacingAndGlyphs" stroke="#000" stroke-width="0.45" >Soumission</text><text x="707.6" y="163" font-size="15.5" font-weight="bold" fill="#000" text-anchor="middle" textLength="46.2" lengthAdjust="spacingAndGlyphs" stroke="#000" stroke-width="0.45" >Projet</text><text x="707" y="182.9" font-size="15.5" font-weight="bold" fill="#000" text-anchor="middle" textLength="86.7" lengthAdjust="spacingAndGlyphs" stroke="#000" stroke-width="0.45" >de décision</text><text x="706.2" y="264.8" font-size="10.8" font-weight="bold" fill="#000" text-anchor="middle" textLength="56.3" lengthAdjust="spacingAndGlyphs" stroke="#000" stroke-width="0.45" >4 semaines</text><text x="703.5" y="502" font-size="10.8" font-weight="bold" fill="#000" text-anchor="middle" textLength="56" lengthAdjust="spacingAndGlyphs" stroke="#000" stroke-width="0.45" >2 semaines</text><text x="702" y="422" font-size="15.5" font-weight="bold" fill="#000" text-anchor="middle" textLength="69.8" lengthAdjust="spacingAndGlyphs" stroke="#000" stroke-width="0.45" >Projet de</text><text x="701.9" y="441.8" font-size="15.5" font-weight="bold" fill="#000" text-anchor="middle" textLength="113.4" lengthAdjust="spacingAndGlyphs" stroke="#000" stroke-width="0.45" >décision révisé</text><text x="492.6" y="410.9" font-size="14.8" font-weight="bold" fill="#fff" text-anchor="middle" textLength="102.8" lengthAdjust="spacingAndGlyphs" stroke="#fff" stroke-width="0.45" >Procédure de</text><text x="492.2" y="431.3" font-size="14.8" font-weight="bold" fill="#fff" text-anchor="middle" textLength="77.8" lengthAdjust="spacingAndGlyphs" stroke="#fff" stroke-width="0.45" >réglement</text><text x="492.1" y="451.6" font-size="14.8" font-weight="bold" fill="#fff" text-anchor="middle" textLength="136.4" lengthAdjust="spacingAndGlyphs" stroke="#fff" stroke-width="0.45" >des litiges (CEPD)</text></g><g filter="url(#sh)"><text x="907.8" y="428.8" font-size="13" font-weight="bold" fill="#000" text-anchor="middle" textLength="150" lengthAdjust="spacingAndGlyphs" stroke="#000" stroke-width="0.45" >Adoption de la décision</text><text x="907.7" y="445.9" font-size="13" font-weight="bold" fill="#000" text-anchor="middle" textLength="121.3" lengthAdjust="spacingAndGlyphs" stroke="#000" stroke-width="0.45" >finale par l’autorité</text><text x="907.7" y="462.1" font-size="13" font-weight="bold" fill="#000" text-anchor="middle" textLength="70.2" lengthAdjust="spacingAndGlyphs" stroke="#000" stroke-width="0.45" >chef de file</text></g><g filter="url(#sh3)"><text x="701.1" y="349.9" font-size="10.2" font-weight="normal" fill="#000" text-anchor="middle" textLength="52.5" lengthAdjust="spacingAndGlyphs" stroke="#000" stroke-width="0.32" >Objections</text><text x="570.9" y="524.2" font-size="10.2" font-weight="normal" fill="#000" text-anchor="middle" textLength="52.5" lengthAdjust="spacingAndGlyphs" stroke="#000" stroke-width="0.32" >Objections</text><text x="820.2" y="286.2" font-size="10.2" font-weight="normal" fill="#000" text-anchor="middle" textLength="18.5" lengthAdjust="spacingAndGlyphs" stroke="#000" stroke-width="0.32" >Pas</text><text x="820.3" y="297.5" font-size="10.2" font-weight="normal" fill="#000" text-anchor="middle" textLength="59.7" lengthAdjust="spacingAndGlyphs" stroke="#000" stroke-width="0.32" >d’objections</text><text x="820.8" y="524.4" font-size="10.2" font-weight="normal" fill="#000" text-anchor="middle" textLength="18.5" lengthAdjust="spacingAndGlyphs" stroke="#000" stroke-width="0.32" >Pas</text><text x="820.8" y="535.7" font-size="10.2" font-weight="normal" fill="#000" text-anchor="middle" textLength="59.3" lengthAdjust="spacingAndGlyphs" stroke="#000" stroke-width="0.32" >d’objections</text><text x="665.7" y="313.6" font-size="9.3" font-weight="normal" fill="#000" text-anchor="end" font-style="italic" textLength="51" lengthAdjust="spacingAndGlyphs" stroke="#000" stroke-width="0.32" >Non suivies</text><text x="665.7" y="325.3" font-size="9.3" font-weight="normal" fill="#000" text-anchor="end" font-style="italic" textLength="108.6" lengthAdjust="spacingAndGlyphs" stroke="#000" stroke-width="0.32" >par l'autorité chef de file</text><text x="709.3" y="367.2" font-size="9.3" font-weight="normal" fill="#000" text-anchor="start" font-style="italic" textLength="31" lengthAdjust="spacingAndGlyphs" stroke="#000" stroke-width="0.32" >Suivies</text><text x="709.3" y="379.3" font-size="9.3" font-weight="normal" fill="#000" text-anchor="start" font-style="italic" textLength="57.6" lengthAdjust="spacingAndGlyphs" stroke="#000" stroke-width="0.32" >par l'autorité</text><text x="709.3" y="391.3" font-size="9.3" font-weight="normal" fill="#000" text-anchor="start" font-style="italic" textLength="49" lengthAdjust="spacingAndGlyphs" stroke="#000" stroke-width="0.32" >chef de file</text></g>
</svg>
</body></html>
